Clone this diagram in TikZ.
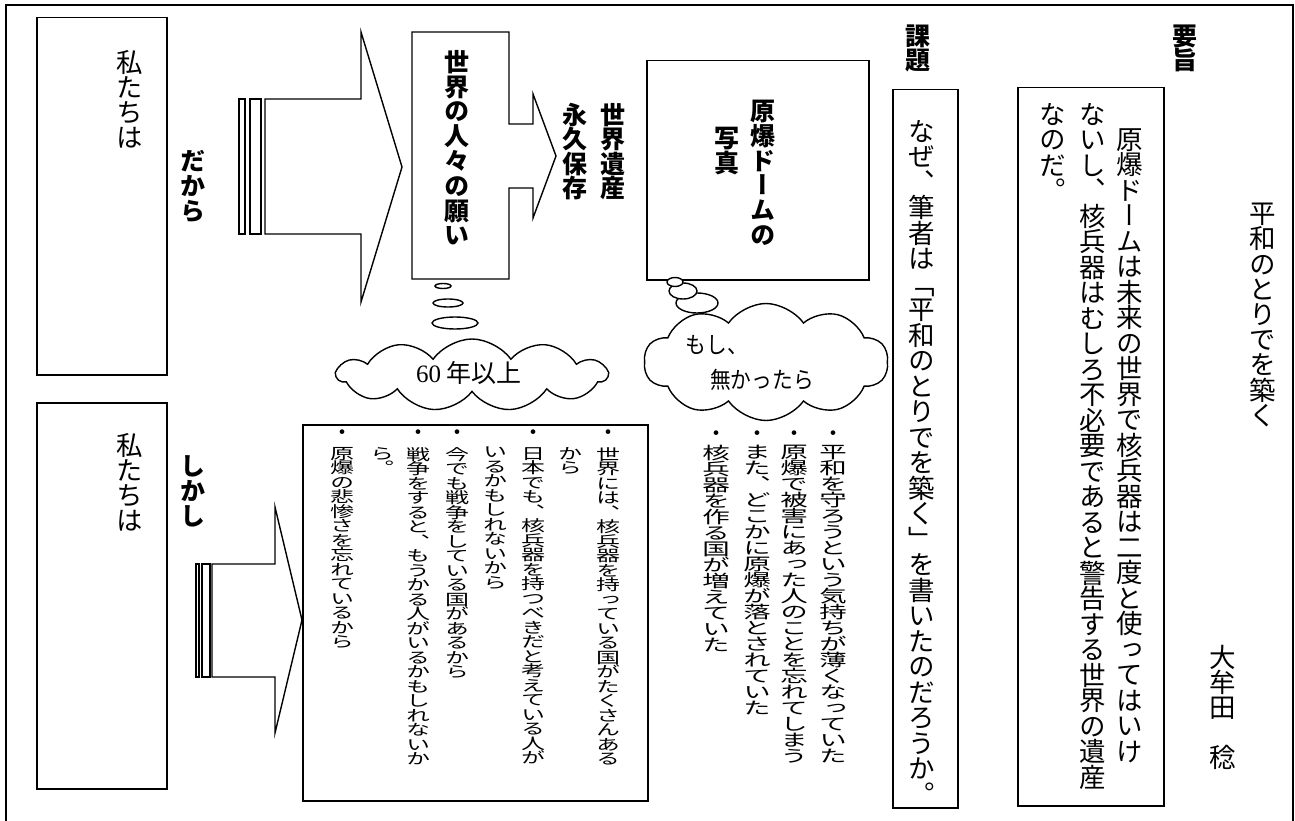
\documentclass[tikz,border=0pt]{standalone}
\usepackage{fontspec}
\usepackage{graphicx}
\usetikzlibrary{shapes.symbols}
\newfontfamily\jpv{Noto Sans CJK JP}[RawFeature=+vert]
\newfontfamily\jph{Noto Sans CJK JP}
\newfontfamily\lser{Liberation Serif}

\newlength\vtw
\def\vtS{1}
\def\vtend{\vtend}
\def\vsp{\relax}
\def\vtloop#1{\ifx#1\vtend\else\hbox to\vtw{\hss\scalebox{1}[\vtS]{#1}\hss}\expandafter\vtloop\fi}
\newcommand\vt[3][1]{\vbox{\def\vtS{#1}\setlength\vtw{1em}\setlength\baselineskip{#2}\lineskiplimit=-\maxdimen\lineskip=0pt\vtloop#3\vtend}}

\tikzset{
  vtxt/.style={inner sep=0pt, anchor=north, font=\jpv\fontsize{26.5}{26.5}\selectfont},
  vbold/.style={inner sep=0pt, anchor=north, font=\jpv\bfseries\fontsize{25}{25}\selectfont},
  vsmall/.style={inner sep=0pt, anchor=north, font=\jpv\fontsize{24}{24}\selectfont},
  vmid/.style={inner sep=0pt, anchor=north, font=\jpv\fontsize{27.5}{27.5}\selectfont},
  bul/.style={inner sep=0pt, anchor=center, font=\jph\fontsize{22}{22}\selectfont},
  htxt/.style={inner sep=0pt, anchor=center, font=\jph\fontsize{23}{23}\selectfont},
  box/.style={draw, line width=1.5pt, inner sep=0pt, anchor=north west, fill=white},
  shp/.style={draw, line width=1.4pt, fill=white, line join=miter},
  bubble/.style={draw, line width=1.4pt, fill=white},
  thought/.style={cloud, draw, line width=1.4pt, fill=white, inner sep=0pt},
}

\begin{document}
\begin{tikzpicture}[x=1pt,y=-1pt]
\useasboundingbox (0,0) rectangle (1295,821);
\fill[white] (0,0) rectangle (1295,821);
% outer frame
\draw[line width=2pt] (5.5,822) -- (5.5,5.5) -- (1293,5.5) -- (1293,822);

% left boxes
\node[box, minimum width=130pt, minimum height=357pt] (w1) at (36,17) {};
\node[box, minimum width=130pt, minimum height=386pt] (w2) at (36,402) {};
\node[vtxt] (w1t) at (130,50) {\vt{25pt}{私たちは}};
\node[vtxt] (w2t) at (130,433) {\vt{25pt}{私たちは}};
\node[vbold] (dakara) at (193,150) {\vt{25pt}{だから}};
\node[vbold] (shikashi) at (193,455) {\vt{25pt}{しかし}};

% striped arrow 1
\draw[shp] (239,99) rectangle (245,234);
\draw[shp] (250,99) rectangle (261,234);
\draw[shp] (265,99) -- (361,99) -- (361,32) -- (402,167) -- (361,302) -- (361,234) -- (265,234) -- cycle;
% striped arrow 2
\draw[shp] (196,564) rectangle (199,677);
\draw[shp] (202,564) rectangle (210,677);
\draw[shp] (212,564) -- (275,564) -- (275,507) -- (302,620) -- (275,733) -- (275,677) -- (212,677) -- cycle;

% callout box with arrow
\draw[shp] (412,32) -- (509,32) -- (509,124) -- (533,124) -- (533,94) -- (556,156) -- (533,218) -- (533,188) -- (509,188) -- (509,279) -- (412,279) -- cycle;
\node[vbold] (negai) at (457,50) {\vt{24.8pt}{世界の人々の願い}};
\node[vbold] (isan) at (613,103) {\vt{24.5pt}{世界遺産}};
\node[vbold] (hozon) at (575,103) {\vt{24.5pt}{永久保存}};

% genbaku dome box
\node[box, minimum width=222pt, minimum height=219pt] (dome) at (646,60) {};
\node[vbold] (domet1) at (763,100) {\vt{24.7pt}{原爆ドームの}};
\node[vbold] (domet2) at (727,127) {\vt{24.7pt}{写真}};

% thought cloud 1
\node[thought, cloud puffs=11, cloud puff arc=110, aspect=3.6, minimum width=270pt, minimum height=72pt] (cl1) at (472,375) {};
\draw[bubble] (455,323) ellipse [x radius=23pt, y radius=6pt];
\draw[bubble] (448,303) ellipse [x radius=15pt, y radius=4pt];
\draw[bubble] (443,286) ellipse [x radius=8pt, y radius=2.5pt];
\node[htxt, font=\jph\fontsize{25}{25}\selectfont] (cl1t) at (469,373) {{\lser 60} 年以上};

% thought cloud 2
\node[thought, cloud puffs=10, cloud puff arc=110, aspect=2.1, minimum width=244pt, minimum height=117pt] (cl2) at (766,362) {};
\draw[bubble] (697,303) ellipse [x radius=21pt, y radius=10pt];
\draw[bubble] (683,291) ellipse [x radius=14pt, y radius=8pt];
\draw[bubble] (675,282) ellipse [x radius=8pt, y radius=4.5pt];
\node[htxt] (cl2a) at (717,345) {\scalebox{0.9}[1]{もし、}};
\node[htxt] (cl2b) at (762,380) {\scalebox{0.9}[1]{無かったら}};

% bullet box
\node[box, minimum width=345pt, minimum height=376pt] (blt) at (302,424) {};
\node[bul] (b1) at (608,435) {・};
\node[vsmall] (l1) at (608,447) {\vt[0.64]{14.5pt}{世界には、核兵器を持っている国がたくさんある}};
\node[vsmall] (l2) at (570,447) {\vt[0.64]{14.5pt}{から}};
\node[bul] (b3) at (533,435) {・};
\node[vsmall] (l3) at (533,447) {\vt[0.64]{14.5pt}{日本でも、核兵器を持つべきだと考えている人が}};
\node[vsmall] (l4) at (495,447) {\vt[0.64]{14.5pt}{いるかもしれないから}};
\node[bul] (b5) at (457,435) {・};
\node[vsmall] (l5) at (457,447) {\vt[0.64]{14.5pt}{今でも戦争をしている国があるから}};
\node[bul] (b6) at (418,435) {・};
\node[vsmall] (l6) at (418,447) {\vt[0.64]{14.5pt}{戦争をすると、もうかる人がいるかもしれないか}};
\node[vsmall] (l7) at (382,447) {\vt[0.64]{14.5pt}{ら。}};
\node[bul] (b8) at (342,435) {・};
\node[vsmall] (l8) at (342,447) {\vt[0.64]{14.5pt}{原爆の悲惨さを忘れているから}};

% center bullets
\node[bul] (m1b) at (833,436) {・};
\node[vmid] (m1) at (833,445) {\vt[0.62]{16pt}{平和を守ろうという気持ちが薄くなっていた}};
\node[bul] (m2b) at (794,436) {・};
\node[vmid] (m2) at (794,445) {\vt[0.62]{16pt}{原爆で被害にあった人のことを忘れてしまう}};
\node[bul] (m3b) at (757,436) {・};
\node[vmid] (m3) at (757,445) {\vt[0.62]{16pt}{また、どこかに原爆が落とされていた}};
\node[bul] (m4b) at (716,436) {・};
\node[vmid] (m4) at (716,445) {\vt[0.62]{16pt}{核兵器を作る国が増えていた}};

% kadai
\node[vbold] (kadai) at (918,25) {\vt{24pt}{課題}};
\node[box, minimum width=65pt, minimum height=718pt] (kbox) at (892,89) {};
\node[vtxt] (kt) at (922,120) {\vt{25.5pt}{なぜ、筆者は「平和のとりでを築く」を書いたのだろうか。}};

% yoshi
\node[vbold] (yoshi) at (1185,25) {\vt{24pt}{要旨}};
\node[box, minimum width=146pt, minimum height=718pt] (ybox) at (1017,87) {};
\node[vtxt] (y1) at (1130,128) {\vt{25.5pt}{原爆ドームは未来の世界で核兵器は二度と使ってはいけ}};
\node[vtxt] (y2) at (1093,103) {\vt{25.5pt}{ないし、核兵器はむしろ不必要であると警告する世界の遺産}};
\node[vtxt] (y3) at (1053,103) {\vt{25.5pt}{なのだ。}};

% title and author
\node[vtxt] (title) at (1263,203) {\vt{25.2pt}{平和のとりでを築く}};
\node[vtxt] (author) at (1223,645) {\vt{25pt}{大牟田\vsp 稔}};
\end{tikzpicture}
\end{document}
